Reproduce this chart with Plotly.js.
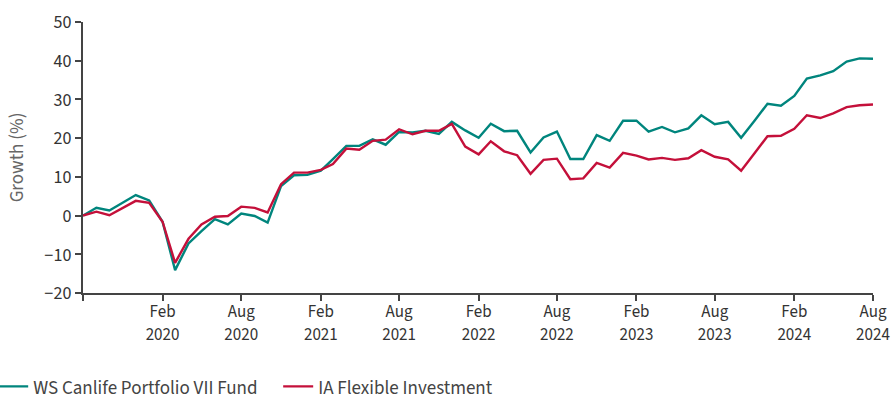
<!DOCTYPE html>
<html>
<head>
<meta charset="utf-8">
<script src="https://cdn.plot.ly/plotly-3.0.1.min.js"></script>
<style>html,body{margin:0;padding:0;background:#fff;}#chart{width:892px;height:401px;}</style>
</head>
<body>
<div id="chart"></div>
<script>
// Monthly dates Aug 2019 .. Aug 2024
const months = [
  '2019-08','2019-09','2019-10','2019-11','2019-12','2020-01','2020-02','2020-03','2020-04','2020-05','2020-06','2020-07',
  '2020-08','2020-09','2020-10','2020-11','2020-12','2021-01','2021-02','2021-03','2021-04','2021-05','2021-06','2021-07',
  '2021-08','2021-09','2021-10','2021-11','2021-12','2022-01','2022-02','2022-03','2022-04','2022-05','2022-06','2022-07',
  '2022-08','2022-09','2022-10','2022-11','2022-12','2023-01','2023-02','2023-03','2023-04','2023-05','2023-06','2023-07',
  '2023-08','2023-09','2023-10','2023-11','2023-12','2024-01','2024-02','2024-03','2024-04','2024-05','2024-06','2024-07',
  '2024-08'
];
const fundName = 'WS Canlife Portfolio VII Fund';
const fundValues = [
  0.0, 2.0, 1.3, 3.3, 5.3, 3.9, -1.6, -14.1, -7.2, -4.0, -0.9, -2.3,
  0.5, -0.1, -1.8, 7.6, 10.4, 10.5, 11.6, 14.6, 18.0, 18.0, 19.7, 18.3,
  21.6, 21.5, 21.9, 21.1, 24.2, 22.0, 20.1, 23.7, 21.8, 21.9, 16.3, 20.2,
  21.7, 14.6, 14.6, 20.8, 19.3, 24.5, 24.5, 21.7, 22.9, 21.5, 22.5, 25.9,
  23.6, 24.2, 20.1, 24.5, 28.9, 28.4, 30.9, 35.4, 36.2, 37.3, 39.8, 40.6,
  40.5
];
const sectorName = 'IA Flexible Investment';
const sectorValues = [
  0.0, 1.0, 0.1, 2.0, 3.8, 3.3, -1.6, -12.2, -6.0, -2.3, -0.3, -0.1,
  2.3, 2.0, 0.8, 8.1, 11.1, 11.1, 11.8, 13.3, 17.3, 17.0, 19.3, 19.6,
  22.3, 21.0, 21.9, 21.9, 23.7, 17.8, 15.8, 19.2, 16.6, 15.6, 10.8, 14.4,
  14.7, 9.4, 9.6, 13.6, 12.4, 16.2, 15.5, 14.5, 14.9, 14.4, 14.8, 16.9,
  15.2, 14.5, 11.6, 16.1, 20.5, 20.6, 22.4, 25.9, 25.2, 26.4, 28.0, 28.5,
  28.7
];
const tickDates = ['2019-08','2020-02','2020-08','2021-02','2021-08','2022-02','2022-08','2023-02','2023-08','2024-02','2024-08'];
const tickMonths = ['','Feb','Aug','Feb','Aug','Feb','Aug','Feb','Aug','Feb','Aug'];
const tickYears = ['','2020','2020','2021','2021','2022','2022','2023','2023','2024','2024'];
const yTicks = [-20,-10,0,10,20,30,40,50];

const FONT = '"Source Sans Pro", "Source Sans 3", "Open Sans", sans-serif';
const tickText = tickMonths.map((m, i) => m ? m + '<br>' + tickYears[i] : '');

const traces = [
  {x: months.map(m => m + '-01'), y: fundValues, name: fundName, type: 'scatter', mode: 'lines',
   line: {color: '#00857D', width: 2.4}},
  {x: months.map(m => m + '-01'), y: sectorValues, name: sectorName, type: 'scatter', mode: 'lines',
   line: {color: '#C4103A', width: 2.4}}
];
const layout = {
  width: 892, height: 401,
  margin: {l: 83, r: 19, t: 22, b: 108, autoexpand: false},
  paper_bgcolor: '#fff', plot_bgcolor: '#fff',
  font: {family: FONT, color: '#333', size: 18},
  showlegend: true,
  legend: {orientation: 'h', x: -0.1137, xanchor: 'left', y: -0.345, yanchor: 'middle',
           font: {family: FONT, size: 19, color: '#444'}, itemwidth: 30, tracegroupgap: 0,
           entrywidth: 240},
  xaxis: {
    type: 'date', automargin: false,
    range: ['2019-08-01', '2024-08-01'],
    tickvals: tickDates.map(m => m + '-01'), ticktext: tickText,
    ticks: 'outside', ticklen: 6, tickwidth: 2, tickcolor: '#444',
    showline: true, linecolor: '#444', linewidth: 2,
    showgrid: false, zeroline: false,
    ticklabelstandoff: -4,
    tickfont: {family: FONT, size: 17, color: '#333'}
  },
  yaxis: {
    range: [-20, 50], automargin: false,
    tickvals: yTicks,
    ticks: 'outside', ticklen: 6, tickwidth: 2, tickcolor: '#444',
    showline: true, linecolor: '#444', linewidth: 2,
    showgrid: false, zeroline: false,
    tickfont: {family: FONT, size: 18, color: '#333'},
    title: {text: 'Growth (%)', font: {family: FONT, size: 19, color: '#666'}, standoff: 16}
  }
};
Plotly.newPlot('chart', traces, layout, {displayModeBar: false, staticPlot: true});
</script>
</body>
</html>
